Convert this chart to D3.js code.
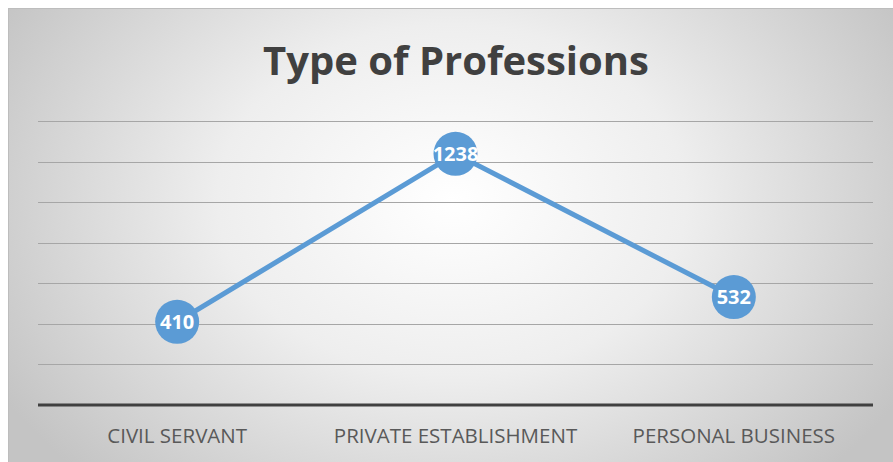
<!DOCTYPE html>
<html><head><meta charset="utf-8">
<script src="https://cdn.jsdelivr.net/npm/d3@7"></script>
<style>html,body{margin:0;padding:0;background:#fff;}svg{display:block;}</style>
</head><body>
<script>
const categories = ["CIVIL SERVANT", "PRIVATE ESTABLISHMENT", "PERSONAL BUSINESS"];
const values = [410, 1238, 532];
const yTicks = [0, 200, 400, 600, 800, 1000, 1200, 1400];
const title = "Type of Professions";

(function () {
const W = 893, H = 462;
const svg = d3.select("body").append("svg").attr("width", W).attr("height", H);
const defs = svg.append("defs");
const grad = defs.append("radialGradient").attr("id", "bg")
  .attr("gradientUnits", "userSpaceOnUse")
  .attr("cx", 452).attr("cy", 200).attr("r", 520)
  .attr("gradientTransform", "translate(452,200) scale(1,0.75) translate(-452,-200)");
grad.append("stop").attr("offset", "0%").attr("stop-color", "#ffffff");
grad.append("stop").attr("offset", "45%").attr("stop-color", "#eeeeee");
grad.append("stop").attr("offset", "100%").attr("stop-color", "#c4c4c4");

svg.append("rect").attr("x", 8.5).attr("y", 8.5).attr("width", W - 8).attr("height", H - 8)
  .attr("fill", "url(#bg)").attr("stroke", "#bdbdbd").attr("stroke-width", 1);

const mLeft = 38, mRight = 873, mTop = 121, mBottom = 405;
const x = d3.scaleBand().domain(categories).range([mLeft, mRight]);
const y = d3.scaleLinear().domain([0, 1400]).range([mBottom, mTop]);

svg.append("text").attr("x", 456).attr("y", 75).attr("text-anchor", "middle")
  .attr("font-family", "'Open Sans', sans-serif").attr("font-weight", "bold")
  .attr("font-size", 40).attr("fill", "#404040").text(title);

svg.append("g").selectAll("line").data(yTicks.filter(d => d > 0)).join("line")
  .attr("x1", mLeft).attr("x2", mRight)
  .attr("y1", d => Math.round(y(d)) + 0.5).attr("y2", d => Math.round(y(d)) + 0.5)
  .attr("stroke", "#a6a6a6").attr("stroke-width", 1);

svg.append("line").attr("x1", mLeft).attr("x2", mRight).attr("y1", y(0)).attr("y2", y(0))
  .attr("stroke", "#404040").attr("stroke-width", 3);

svg.append("g").selectAll("text").data(categories).join("text")
  .attr("x", d => x(d) + x.bandwidth() / 2).attr("y", 443)
  .attr("text-anchor", "middle").attr("font-family", "'Open Sans', sans-serif")
  .attr("font-size", 20.5).attr("fill", "#595959").text(d => d);

const pts = categories.map((c, i) => ({c, v: values[i]}));
svg.append("path").datum(pts)
  .attr("d", d3.line().x(d => x(d.c) + x.bandwidth() / 2).y(d => y(d.v)))
  .attr("fill", "none").attr("stroke", "#5b9bd5").attr("stroke-width", 5)
  .attr("stroke-linejoin", "round");

svg.append("g").selectAll("circle").data(pts).join("circle")
  .attr("cx", d => x(d.c) + x.bandwidth() / 2).attr("cy", d => y(d.v)).attr("r", 22)
  .attr("fill", "#5b9bd5");

svg.append("g").selectAll("text").data(pts).join("text")
  .attr("x", d => x(d.c) + x.bandwidth() / 2).attr("y", d => y(d.v) + 7)
  .attr("text-anchor", "middle").attr("font-family", "'Open Sans', sans-serif")
  .attr("font-weight", "bold").attr("font-size", 20).attr("fill", "#ffffff")
  .text(d => d.v);
})();
</script>
</body></html>
